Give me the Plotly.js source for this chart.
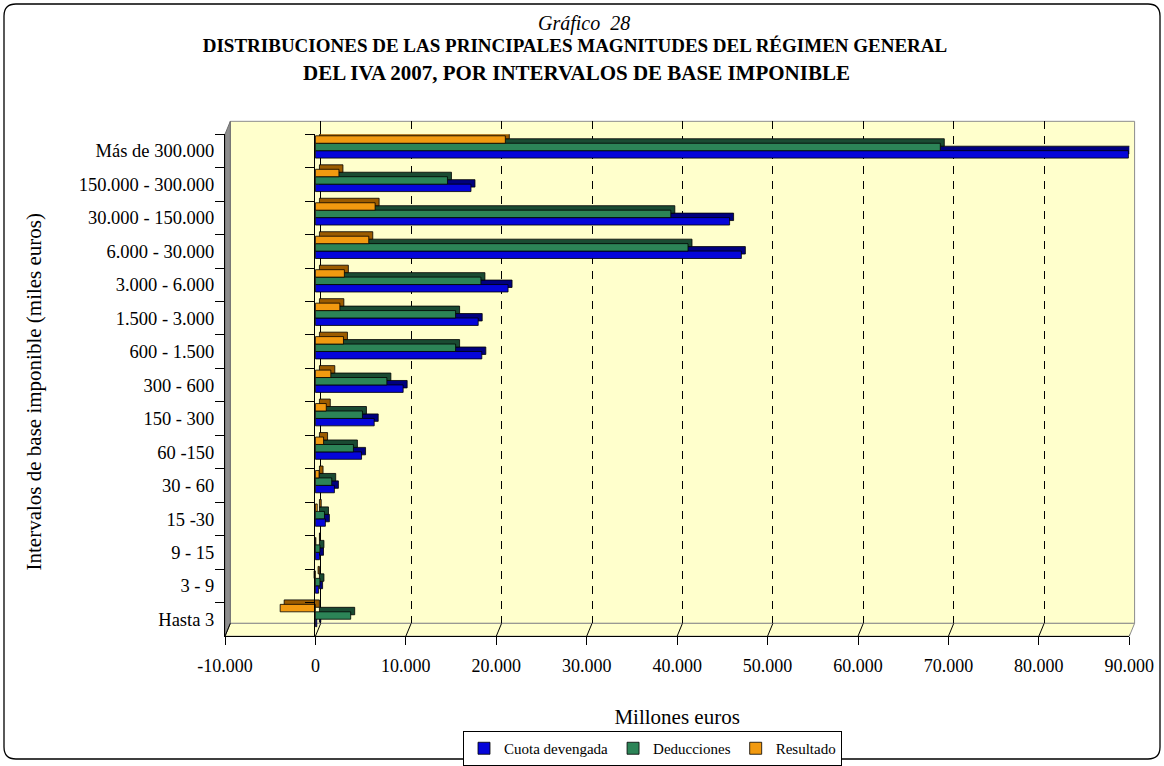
<!DOCTYPE html>
<html>
<head>
<meta charset="utf-8">
<script src="https://cdn.plot.ly/plotly-3.0.1.min.js"></script>
<style>
  html, body { margin: 0; padding: 0; background: #ffffff; }
  #chart { width: 1164px; height: 766px; }
</style>
</head>
<body>
<div id="chart"></div>
<script>
// ---------- DATA ----------
const categories = ["Hasta 3", "3 - 9", "9 - 15", "15 -30", "30 - 60", "60 -150", "150 - 300",
  "300 - 600", "600 - 1.500", "1.500 - 3.000", "3.000 - 6.000", "6.000 - 30.000",
  "30.000 - 150.000", "150.000 - 300.000", "Más de 300.000"];
const cuotaDevengada = [150, 350, 450, 1100, 2100, 5100, 6500, 9700, 18400, 18000, 21300, 47100, 45800, 17200, 89900];
const deducciones    = [3900, 500, 500, 1000, 1800, 4200, 5200, 7900, 15500, 15500, 18300, 41200, 39300, 14600, 69100];
const resultado      = [-3900, -150, 50, 200, 400, 900, 1200, 1700, 3100, 2700, 3200, 5900, 6600, 2600, 21000];
const seriesNames = ["Cuota devengada", "Deducciones", "Resultado"];
const xTickValues = [-10000, 0, 10000, 20000, 30000, 40000, 50000, 60000, 70000, 80000, 90000];
const xTickLabels = ["-10.000", "0", "10.000", "20.000", "30.000", "40.000", "50.000", "60.000", "70.000", "80.000", "90.000"];

// ---------- GEOMETRY / STYLE ----------
const W = 1164, H = 766;
const px = x => x / W;
const py = y => 1 - y / H;
const FRONT = { l: 225, r: 1129.3, t: 134.7, b: 638.7 };
const DX = 5.3, DY = 12.9;
const BACK = { l: FRONT.l + DX, r: FRONT.r + DX, t: FRONT.t - DY, b: FRONT.b - DY };
const XMIN = -10000, XMAX = 90000;
const unitsPerPx = (XMAX - XMIN) / (FRONT.r - FRONT.l);
const depthX = 4 * unitsPerPx;         // 3D depth, horizontal
const depthY = 4.5 / ((FRONT.b - FRONT.t) / categories.length); // 3D depth, vertical (category units)
const BW = 0.222;
const FONT = "Liberation Serif, Times New Roman, serif";

const frontColors = ["#0505DA", "#2C8457", "#F29A10"];
const depthColors = ["#00007E", "#1A4B32", "#9C5C00"];
const offsets = [-0.215, 0.007, 0.229];
const values = [cuotaDevengada, deducciones, resultado];

const traces = [];
// dummy traces so the back-wall subplot and the zero-category axis exist
traces.push({ type: "scatter", x: [], y: [], xaxis: "x", yaxis: "y", showlegend: false, hoverinfo: "skip" });
traces.push({ type: "scatter", x: [], y: [], xaxis: "x2", yaxis: "y3", showlegend: false, hoverinfo: "skip" });

for (let k = 0; k < 3; k++) {
  traces.push({
    type: "bar", orientation: "h", name: seriesNames[k] + " (fondo)",
    y: categories, x: values[k], base: depthX,
    width: BW, offset: offsets[k] + depthY,
    marker: { color: depthColors[k], line: { color: "#000000", width: 0.8 } },
    xaxis: "x2", yaxis: "y2", showlegend: false, hoverinfo: "skip"
  });
  traces.push({
    type: "bar", orientation: "h", name: seriesNames[k],
    y: categories, x: values[k],
    width: BW, offset: offsets[k],
    marker: { color: frontColors[k], line: { color: "#000000", width: 0.8 } },
    xaxis: "x2", yaxis: "y2"
  });
}

// ---------- SHAPES (3D walls, frame) ----------
function pathPoly(pts) {
  return "M" + pts.map(p => px(p[0]) + "," + py(p[1])).join(" L") + " Z";
}
const shapes = [];
// outer rounded frame
(function () {
  const l = 4, t = 4, r = 1160, b = 762, rad = 12;
  const d = "M" + px(l + rad) + "," + py(t) +
    " L" + px(r - rad) + "," + py(t) +
    " Q" + px(r) + "," + py(t) + " " + px(r) + "," + py(t + rad) +
    " L" + px(r) + "," + py(b - rad) +
    " Q" + px(r) + "," + py(b) + " " + px(r - rad) + "," + py(b) +
    " L" + px(l + rad) + "," + py(b) +
    " Q" + px(l) + "," + py(b) + " " + px(l) + "," + py(b - rad) +
    " L" + px(l) + "," + py(t + rad) +
    " Q" + px(l) + "," + py(t) + " " + px(l + rad) + "," + py(t) + " Z";
  shapes.push({ type: "path", xref: "paper", yref: "paper", path: d, line: { color: "#000000", width: 1.3 }, fillcolor: "rgba(0,0,0,0)", layer: "below" });
})();
// back wall
shapes.push({ type: "rect", xref: "paper", yref: "paper", x0: px(BACK.l), x1: px(BACK.r), y0: py(BACK.b), y1: py(BACK.t),
  fillcolor: "#FFFFCC", line: { color: "#8C8C8C", width: 1 }, layer: "below" });
// floor
shapes.push({ type: "path", xref: "paper", yref: "paper", layer: "below",
  path: pathPoly([[FRONT.l, FRONT.b], [BACK.l, BACK.b], [BACK.r, BACK.b], [FRONT.r, FRONT.b]]),
  fillcolor: "#FFFFCC", line: { color: "#8C8C8C", width: 1 } });
// left wall
shapes.push({ type: "path", xref: "paper", yref: "paper", layer: "below",
  path: pathPoly([[FRONT.l, FRONT.b], [FRONT.l, FRONT.t], [BACK.l, BACK.t], [BACK.l, BACK.b]]),
  fillcolor: "#8E8E8E", line: { color: "#6E6E6E", width: 1 } });
// floor grid slants at each tick
xTickValues.forEach(v => {
  shapes.push({ type: "line", xref: "x2", yref: "paper", layer: "below",
    x0: v, x1: v + DX * unitsPerPx, y0: py(FRONT.b), y1: py(BACK.b),
    line: { color: "#000000", width: 1 } });
});

const layout = {
  width: W, height: H,
  margin: { l: 0, r: 0, t: 0, b: 0, pad: 0 },
  paper_bgcolor: "#FFFFFF",
  plot_bgcolor: "rgba(0,0,0,0)",
  barmode: "overlay",
  font: { family: FONT, size: 18, color: "#000000" },
  title: {
    text: "<b>DISTRIBUCIONES DE LAS PRINCIPALES MAGNITUDES DEL RÉGIMEN GENERAL</b>",
    x: px(575), xanchor: "center", y: py(46), yanchor: "middle", yref: "paper",
    font: { family: FONT, size: 19, color: "#000000" }
  },
  annotations: [
    { text: "<i>Gráfico  28</i>", xref: "paper", yref: "paper", x: px(584), y: py(24), xanchor: "center", yanchor: "middle",
      showarrow: false, font: { family: FONT, size: 20, color: "#000000" } },
    { text: "<b>DEL IVA 2007, POR INTERVALOS DE BASE IMPONIBLE</b>", xref: "paper", yref: "paper", x: px(576), y: py(73),
      xanchor: "center", yanchor: "middle", showarrow: false, font: { family: FONT, size: 21, color: "#000000" } },
    { text: "Intervalos de base imponible (miles euros)", xref: "paper", yref: "paper", x: px(34), y: py(394),
      xanchor: "center", yanchor: "middle", textangle: -90, showarrow: false,
      font: { family: FONT, size: 21, color: "#000000" } }
  ],
  // back wall axes (grid only)
  xaxis: { domain: [px(BACK.l), px(BACK.r)], range: [XMIN, XMAX], anchor: "y",
    showgrid: true, gridcolor: "#000000", gridwidth: 1, griddash: "8px,7px",
    tickmode: "array", tickvals: xTickValues.slice(1, -1), showticklabels: false, ticks: "",
    zeroline: true, zerolinecolor: "#000000", zerolinewidth: 1, showline: false, fixedrange: true },
  yaxis: { domain: [py(BACK.b), py(BACK.t)], range: [0, 1], anchor: "x",
    showgrid: false, zeroline: false, showticklabels: false, ticks: "", showline: false, fixedrange: true },
  // front plane axes (bars, labels)
  xaxis2: { domain: [px(FRONT.l), px(FRONT.r)], range: [XMIN, XMAX], anchor: "y2",
    tickmode: "array", tickvals: xTickValues, ticktext: xTickLabels,
    ticks: "outside", ticklen: 8, tickcolor: "#000000", tickwidth: 1, ticklabelstandoff: 5,
    showline: true, linecolor: "#000000", linewidth: 1, showgrid: false, zeroline: false,
    tickfont: { family: FONT, size: 18, color: "#000000" },
    title: { text: "Millones euros", font: { family: FONT, size: 21, color: "#000000" }, standoff: 34 },
    fixedrange: true },
  yaxis2: { domain: [py(FRONT.b), py(FRONT.t)], anchor: "x2", type: "category",
    categoryorder: "array", categoryarray: categories, range: [-0.5, categories.length - 0.5],
    ticks: "outside", tickson: "boundaries", ticklen: 9, tickcolor: "#000000", tickwidth: 1, ticklabelstandoff: 6,
    showline: true, linecolor: "#000000", linewidth: 1, showgrid: false, zeroline: false,
    tickfont: { family: FONT, size: 18.5, color: "#000000" },
    fixedrange: true },
  // category axis line crossing at zero (ticks only)
  yaxis3: { overlaying: "y2", anchor: "free", position: px(FRONT.l + (0 - XMIN) / unitsPerPx - 1),
    range: [-0.5, categories.length - 0.5], tick0: -0.5, dtick: 1,
    ticks: "outside", ticklen: 9, tickcolor: "#000000", tickwidth: 1,
    showline: true, linecolor: "#000000", linewidth: 1, showgrid: false, zeroline: false,
    showticklabels: false, fixedrange: true },
  legend: {
    orientation: "h", x: px(652.5), xanchor: "center", y: py(734), yanchor: "top",
    bgcolor: "#FFFFFF", bordercolor: "#000000", borderwidth: 1,
    font: { family: FONT, size: 15, color: "#000000" }, traceorder: "normal"
  },
  shapes: shapes,
  showlegend: true
};

Plotly.newPlot("chart", traces, layout, { displayModeBar: false, staticPlot: true });
</script>
</body>
</html>
